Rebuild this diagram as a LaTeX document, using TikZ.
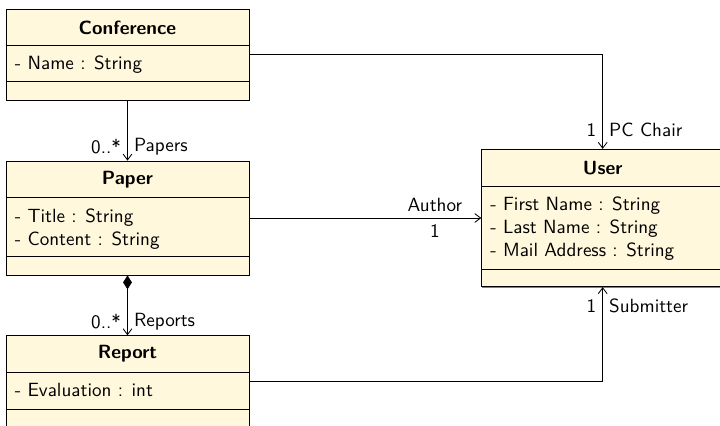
\documentclass[tikz,border=0pt]{standalone}
\usetikzlibrary{arrows.meta,shadows,fit}
\definecolor{classfill}{RGB}{255,248,220}
\newcommand\diagfont{\sffamily\fontsize{10.4}{12.5}\selectfont}
\tikzset{
  classbox/.style={draw=black, line width=0.45pt, fill=classfill, inner sep=0pt,
    drop shadow={shadow xshift=0.25pt, shadow yshift=-0.55pt, fill=black!50, opacity=1}},
  sepline/.style={draw=black, line width=0.45pt},
  classname/.style={font=\diagfont\bfseries, inner sep=0pt},
  attr/.style={font=\diagfont, anchor=base west, inner sep=0pt},
  assoc/.style={draw=black, line width=0.45pt, -{Straight Barb[length=3.2pt,width=4.8pt]}},
  compo/.style={draw=black, line width=0.45pt,
    {Diamond[length=7.6pt,width=4.8pt,fill=black]}-{Straight Barb[length=3.2pt,width=4.8pt]}},
  role/.style={font=\diagfont}
}
\begin{document}
\begin{tikzpicture}[x=0.5444pt, y=-0.5444pt]
\useasboundingbox (0,0) rectangle (720,426);
\clip (0,0) rectangle (720,426);

% Conference
\node[classbox, fit={(6,9) (249,100)}] (conf) {};
\draw[sepline] (6,45) -- (249,45);
\draw[sepline] (6,81.7) -- (249,81.7);
\node[classname] (confname) at (127.5,27.5) {Conference};
\node[attr] (confa1) at (14.5,69) {- Name : String};

% Paper
\node[classbox, fit={(6,161) (249,275)}] (paper) {};
\draw[sepline] (6,197.7) -- (249,197.7);
\node[classname] (papername) at (127.5,179.5) {Paper};
\draw[sepline] (6,256.7) -- (249,256.7);
\node[attr] (papera1) at (14.5,222) {- Title : String};
\node[attr] (papera2) at (14.5,245) {- Content : String};

% Report
\node[classbox, fit={(6,335.7) (249,428)}] (report) {};
\draw[sepline] (6,372.3) -- (249,372.3);
\node[classname] (reportname) at (127.5,354) {Report};
\draw[sepline] (6,409.3) -- (249,409.3);
\node[attr] (reporta1) at (14.5,396) {- Evaluation : int};

% User
\node[classbox, fit={(481.7,149.3) (723.7,286.7)}] (user) {};
\draw[sepline] (481.7,186) -- (723.7,186);
\node[classname] (username) at (602.7,167.7) {User};
\draw[sepline] (481.7,269) -- (723.7,269);
\node[attr] (usera1) at (490,210) {- First Name : String};
\node[attr] (usera2) at (490,233) {- Last Name : String};
\node[attr] (usera3) at (490,256) {- Mail Address : String};

% Associations
\draw[assoc] (conf.east) -| (user.north)
  node[role, pos=0.9, left] {1}
  node[role, pos=0.9, right] {PC Chair};
\draw[assoc] (conf.south) -- (paper.north)
  node[role, pos=0.77, left] {0..*}
  node[role, pos=0.77, right] {Papers};
\draw[assoc] (paper.east) -- (user.west)
  node[role, pos=0.8, above] {Author}
  node[role, pos=0.8, below] {1};
\draw[compo] (paper.south) -- (report.north)
  node[role, pos=0.77, left] {0..*}
  node[role, pos=0.77, right] {Reports};
\draw[assoc] (report.east) -| (user.south)
  node[role, pos=0.9, left] {1}
  node[role, pos=0.9, right] {Submitter};
\end{tikzpicture}
\end{document}
